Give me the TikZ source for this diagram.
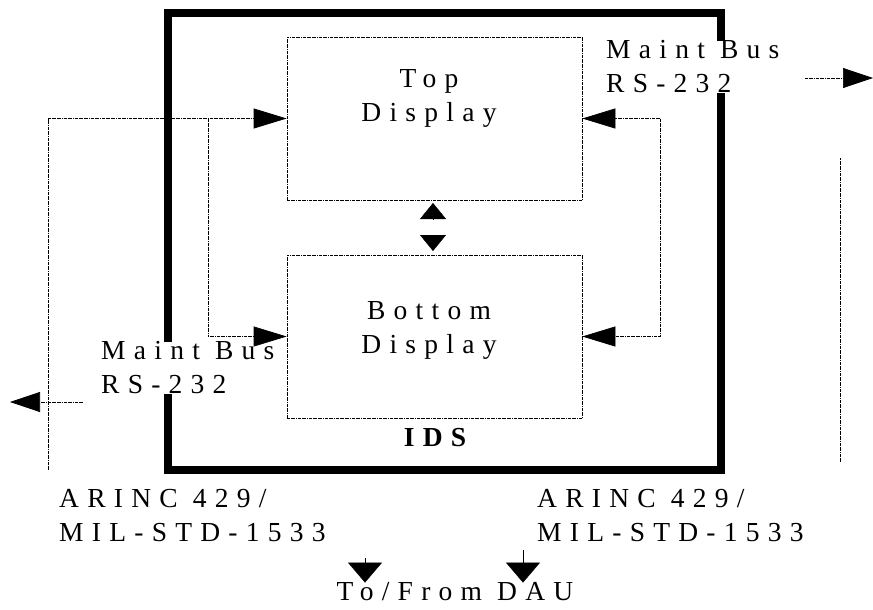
\documentclass[tikz,border=0pt]{standalone}
\usepackage{fontspec}
\newfontfamily\spaced{Liberation Serif}[LetterSpace=30]
\usetikzlibrary{arrows.meta,positioning,calc}

\begin{document}
\begin{tikzpicture}[x=1pt, y=-1pt,
  disp/.style={
    draw, densely dash dot, line width=0.7pt,
    minimum width=295pt, minimum height=163pt
  },
  bus/.style={densely dash dot, line width=0.7pt},
  tipbig/.style={-{Triangle[length=33pt,width=20pt]}},
  tipmaint/.style={-{Triangle[length=30pt,width=20pt]}},
  tipdown/.style={-{Triangle[length=20pt,width=34pt]}},
  tipsmall/.style={-{Triangle[length=16pt,width=26pt]}},
  lbl/.style={font={\spaced\fontsize{27.5}{34}\selectfont}, align=left, inner sep=0pt},
]
\useasboundingbox (0,0) rectangle (873,610);

% IDS housing and the two displays
\node[draw, line width=8pt, minimum width=553pt, minimum height=456pt] (ids) at (444,241.5) {};
\node[disp] (top) at (434.5,118.5) {};
\node[disp] (bot) at (434.5,336.5) {};

\node[lbl, align=center] (toptxt) at (429,98) {Top\\Display};
\node[lbl, align=center] (bottxt) at (429,330) {Bottom\\Display};
\node[lbl, font={\spaced\bfseries\fontsize{27.5}{34}\selectfont}] (idstxt) at (435,438) {IDS};

% labels round the housing
\node[lbl, fill=white, anchor=west] (mtop) at (606,67) {Maint Bus\\RS-232};
\node[lbl, fill=white, anchor=west] (mleft) at (101,368) {Maint Bus\\RS-232};
\node[lbl, anchor=west] (arl) at (59,516) {ARINC 429/\\MIL-STD-1533};
\node[lbl, anchor=west] (arr) at (537,516) {ARINC 429/\\MIL-STD-1533};
\node[lbl] (dau) at (455,592) {To/From DAU};

% bus lines
\coordinate (lbus) at (48,470);
\coordinate (ljoin) at (208,118.5);
\coordinate (rjoin) at (660,118.5);
\coordinate (rbus) at (840,462);
\coordinate (rbustop) at (840,158);
\coordinate (mbr) at (805,78);
\coordinate (mbrend) at (873,78);
\coordinate (mbl) at (83,402);
\coordinate (mblend) at (10,402);
\coordinate (mid) at (433,227);

\draw[bus, tipbig] (lbus) |- (top.west);
\draw[bus, tipbig] (ljoin) |- (bot.west);
\draw[bus, tipbig] (rjoin) -- (top.east);
\draw[bus, tipbig] (rjoin) |- (bot.east);
\draw[bus] (rbus) -- (rbustop);
\draw[bus, tipmaint] (mbr) -- (mbrend);
\draw[bus, tipmaint] (mbl) -- (mblend);

% between the displays
\draw[tipsmall] ([yshift=8pt]mid) -- ([yshift=24pt]mid);
\draw[tipsmall] ([yshift=-8pt]mid) -- ([yshift=-24pt]mid);

% to and from the DAU
\draw[tipdown] (365,558) -- (dau.north -| 365,0);
\draw[tipdown] (523,550) -- (dau.north -| 523,0);

\end{tikzpicture}
\end{document}
